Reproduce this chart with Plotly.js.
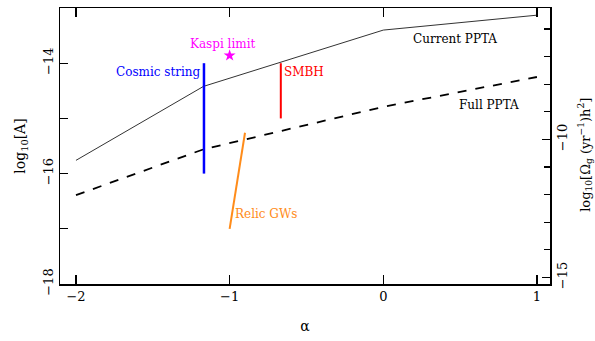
<!DOCTYPE html>
<html>
<head>
<meta charset="utf-8">
<script src="https://cdn.plot.ly/plotly-3.0.1.min.js"></script>
<style>html,body{margin:0;padding:0;background:#fff;}#chart{width:595px;height:341px;}</style>
</head>
<body>
<div id="chart"></div>
<script>
// ---- data ----
const alphaPPTA = [-2, -1.17, 0, 1];
const currentPPTA = [-15.76, -14.42, -13.40, -13.13];
const fullPPTA = [-16.39, -15.56, -14.79, -14.25];

const cosmicAlpha = [-1.167, -1.167];
const cosmicA = [-14.0, -16.0];

const smbhAlpha = [-0.667, -0.667];
const smbhA = [-14.0, -15.0];

const relicAlpha = [-1.0, -0.9];
const relicA = [-17.0, -15.26];

const kaspiAlpha = [-1.0];
const kaspiA = [-13.86];

const xTicks = [-2, -1, 0, 1];
const yTicks = [-18, -16, -14];
const y2Ticks = [-15, -10];

const labelText = ["Kaspi limit", "Cosmic string", "SMBH", "Current PPTA", "Full PPTA", "Relic GWs"];
const labelAlpha = [-1.042, -1.466, -0.515, 0.469, 0.69, -0.765];
const labelA = [-13.66, -14.16, -14.16, -13.56, -14.76, -16.73];
const labelColor = ["#ff00ff", "#0000ff", "#ff0000", "#000000", "#000000", "#ff8c1a"];

const y2Title = "log<sub>10</sub>[\u03a9<sub>g</sub> (yr<sup>\u22121</sup>)h<sup>2</sup>]";

const FONT = "DejaVu Serif, Liberation Serif, serif";

const traces = [
  {x: alphaPPTA, y: currentPPTA, mode: "lines", line: {color: "#333333", width: 1}, hoverinfo: "skip"},
  {x: alphaPPTA, y: fullPPTA, mode: "lines", line: {color: "#000000", width: 1.8, dash: "9px,9px"}, hoverinfo: "skip"},
  {x: cosmicAlpha, y: cosmicA, mode: "lines", line: {color: "#0000ff", width: 2.5}, hoverinfo: "skip"},
  {x: smbhAlpha, y: smbhA, mode: "lines", line: {color: "#ff0000", width: 2}, hoverinfo: "skip"},
  {x: relicAlpha, y: relicA, mode: "lines", line: {color: "#ff8c1a", width: 2}, hoverinfo: "skip"},
  {x: kaspiAlpha, y: kaspiA, mode: "markers", marker: {symbol: "star", size: 9, color: "#ff00ff"}, hoverinfo: "skip"},
  {x: [], y: [], yaxis: "y2", mode: "markers", hoverinfo: "skip"}
];

const annotations = labelText.map((t, i) => ({
  x: labelAlpha[i], y: labelA[i], xref: "x", yref: "y", text: t, showarrow: false,
  xanchor: "center", yanchor: "middle", font: {family: FONT, size: 12, color: labelColor[i]}
}));
annotations.push({
  x: 1.0714, y: 0.468, xref: "paper", yref: "paper", text: y2Title, showarrow: false,
  textangle: -90, xanchor: "center", yanchor: "middle", font: {family: FONT, size: 13, color: "#000"}
});

const layout = {
  width: 595, height: 341,
  margin: {l: 60, r: 45, t: 8, b: 57},
  paper_bgcolor: "#ffffff", plot_bgcolor: "#ffffff",
  showlegend: false,
  font: {family: FONT, color: "#000"},
  xaxis: {
    range: [-2.104, 1.085], tickvals: xTicks, ticktext: xTicks.map(v => v < 0 ? "\u2212" + Math.abs(v) : String(v)),
    ticks: "inside", ticklen: 9, tickwidth: 1.2, tickcolor: "#000",
    showline: true, linecolor: "#000", linewidth: 1.5, mirror: "ticks",
    showgrid: false, zeroline: false,
    tickfont: {family: FONT, size: 13},
    title: {text: "\u03b1", font: {family: FONT, size: 14}, standoff: 18}
  },
  yaxis: {
    range: [-18, -13], tickvals: yTicks, ticktext: yTicks.map(v => "\u2212" + Math.abs(v)),
    ticks: "inside", ticklen: 8, tickwidth: 1.2, tickcolor: "#000", tickangle: -90,
    minor: {dtick: 1, ticks: "inside", ticklen: 8, tickwidth: 1.2, tickcolor: "#000", showgrid: false},
    showline: true, linecolor: "#000", linewidth: 1.5,
    showgrid: false, zeroline: false,
    tickfont: {family: FONT, size: 13},
    title: {text: "log<sub>10</sub>[A]", font: {family: FONT, size: 14}, standoff: 12}
  },
  yaxis2: {
    overlaying: "y", side: "right", anchor: "x",
    range: [-15.24, -5.24], tickvals: y2Ticks, ticktext: y2Ticks.map(v => "\u2212" + Math.abs(v)),
    ticks: "inside", ticklen: 8, tickwidth: 1.2, tickcolor: "#000", tickangle: -90,
    minor: {dtick: 1, ticks: "inside", ticklen: 6, tickwidth: 1.2, tickcolor: "#000", showgrid: false},
    showline: true, linecolor: "#000", linewidth: 1.5,
    showgrid: false, zeroline: false,
    tickfont: {family: FONT, size: 13}
  },
  annotations: annotations
};

Plotly.newPlot("chart", traces, layout, {staticPlot: true, displayModeBar: false});
</script>
</body>
</html>
